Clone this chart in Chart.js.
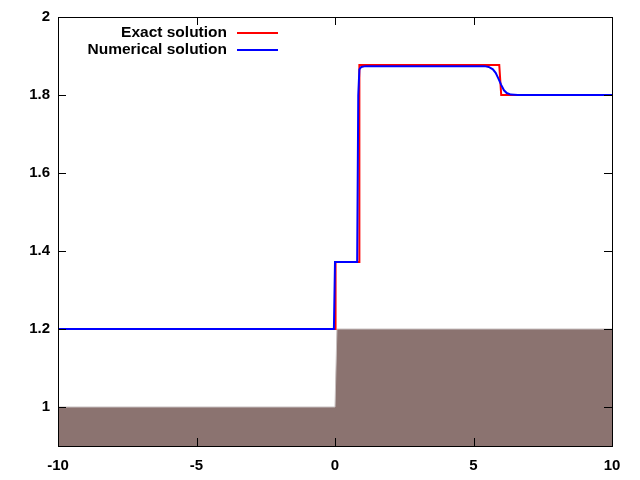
<!DOCTYPE html>
<html>
<head>
<meta charset="utf-8">
<script src="https://cdn.jsdelivr.net/npm/chart.js@4/dist/chart.umd.min.js"></script>
<style>
  html, body { margin: 0; padding: 0; background: #fff; }
  #wrap { width: 640px; height: 480px; }
</style>
</head>
<body>
<div id="wrap"><canvas id="flowChart"></canvas></div>
<script>
// bottom topography (filled)
const bottomX = [-10, 0, 0.07, 10];
const bottomY = [1.0, 1.0, 1.2, 1.2];

// exact solution
const exactX = [-10, 0.02, 0.02, 0.88, 0.88, 5.93, 6.0, 10];
const exactY = [1.2, 1.2, 1.372, 1.372, 1.877, 1.877, 1.8, 1.8];

// numerical solution
const numX = [-10, -0.04, 0.0, 0.8, 0.84, 0.88, 0.95, 1.1, 5.4, 5.55, 5.7, 5.8, 5.9, 6.0, 6.1, 6.2, 6.35, 6.6, 10];
const numY = [1.2, 1.2, 1.372, 1.372, 1.80, 1.866, 1.872, 1.874, 1.874, 1.872, 1.866, 1.857, 1.842, 1.826, 1.812, 1.805, 1.801, 1.8, 1.8];

const xTicks = [-10, -5, 0, 5, 10];
const yTicks = [1, 1.2, 1.4, 1.6, 1.8, 2];

const toPoints = (xs, ys) => xs.map((x, i) => ({x: x, y: ys[i]}));

const FONT = {family: '"Liberation Sans", Arial, sans-serif', size: 15, weight: 'bold'};

// gnuplot look: box border, inward ticks, legend with text on the left
const gnuplotFrame = {
  id: 'gnuplotFrame',
  afterDraw(chart) {
    const {ctx, chartArea: a, scales: {x, y}} = chart;
    ctx.save();
    ctx.strokeStyle = '#000';
    ctx.lineWidth = 1;
    ctx.strokeRect(Math.round(a.left) + 0.5, Math.round(a.top) + 0.5,
      Math.round(a.right - a.left), Math.round(a.bottom - a.top));
    const len = 8;
    ctx.beginPath();
    xTicks.forEach(v => {
      const px = Math.round(x.getPixelForValue(v)) + 0.5;
      ctx.moveTo(px, a.bottom); ctx.lineTo(px, a.bottom - len);
      ctx.moveTo(px, a.top); ctx.lineTo(px, a.top + len);
    });
    yTicks.forEach(v => {
      const py = Math.round(y.getPixelForValue(v)) + 0.5;
      ctx.moveTo(a.left, py); ctx.lineTo(a.left + len, py);
      ctx.moveTo(a.right, py); ctx.lineTo(a.right - len, py);
    });
    ctx.stroke();

    // legend
    ctx.font = 'bold 15.5px "Liberation Sans", Arial, sans-serif';
    ctx.textAlign = 'right';
    ctx.textBaseline = 'middle';
    let row = 0;
    chart.data.datasets.forEach(ds => {
      if (!ds.label) return;
      const ty = a.top + 16 + row * 17;
      ctx.fillStyle = '#000';
      ctx.fillText(ds.label, a.left + 169, ty);
      ctx.strokeStyle = ds.borderColor;
      ctx.lineWidth = 2;
      ctx.beginPath();
      ctx.moveTo(a.left + 179, ty);
      ctx.lineTo(a.left + 220, ty);
      ctx.stroke();
      row++;
    });
    ctx.restore();
  }
};

const config = {
  type: 'line',
  data: {
    datasets: [
      {
        label: '',
        data: toPoints(bottomX, bottomY),
        fill: 'start',
        backgroundColor: '#8b7370',
        borderColor: '#c8c0c0',
        borderWidth: 1,
        pointRadius: 0,
        order: 3
      },
      {
        label: 'Exact solution',
        data: toPoints(exactX, exactY),
        borderColor: '#ff0000',
        borderWidth: 2,
        pointRadius: 0,
        fill: false,
        order: 2
      },
      {
        label: 'Numerical solution',
        data: toPoints(numX, numY),
        borderColor: '#0000ff',
        borderWidth: 2,
        pointRadius: 0,
        fill: false,
        order: 1
      }
    ]
  },
  options: {
    responsive: false,
    animation: false,
    layout: {padding: {left: 0, right: 28, top: 17, bottom: 0}},
    plugins: {legend: {display: false}, tooltip: {enabled: false}},
    scales: {
      x: {
        type: 'linear',
        min: -10, max: 10,
        grid: {display: false},
        border: {display: false},
        ticks: {
          stepSize: 5, font: FONT, color: '#000', padding: 3,
          callback: v => String(v)
        },
        afterFit: s => { s.height = 34; }
      },
      y: {
        type: 'linear',
        min: 0.9, max: 2,
        grid: {display: false},
        border: {display: false},
        ticks: {
          stepSize: 0.2, includeBounds: false, font: FONT, color: '#000', padding: 0,
          callback: v => String(Math.round(v * 10) / 10)
        },
        afterFit: s => { s.width = 58; }
      }
    }
  },
  plugins: [gnuplotFrame]
};

const canvas = document.getElementById('flowChart');
canvas.width = 640;
canvas.height = 480;
new Chart(canvas, config);
</script>
</body>
</html>
